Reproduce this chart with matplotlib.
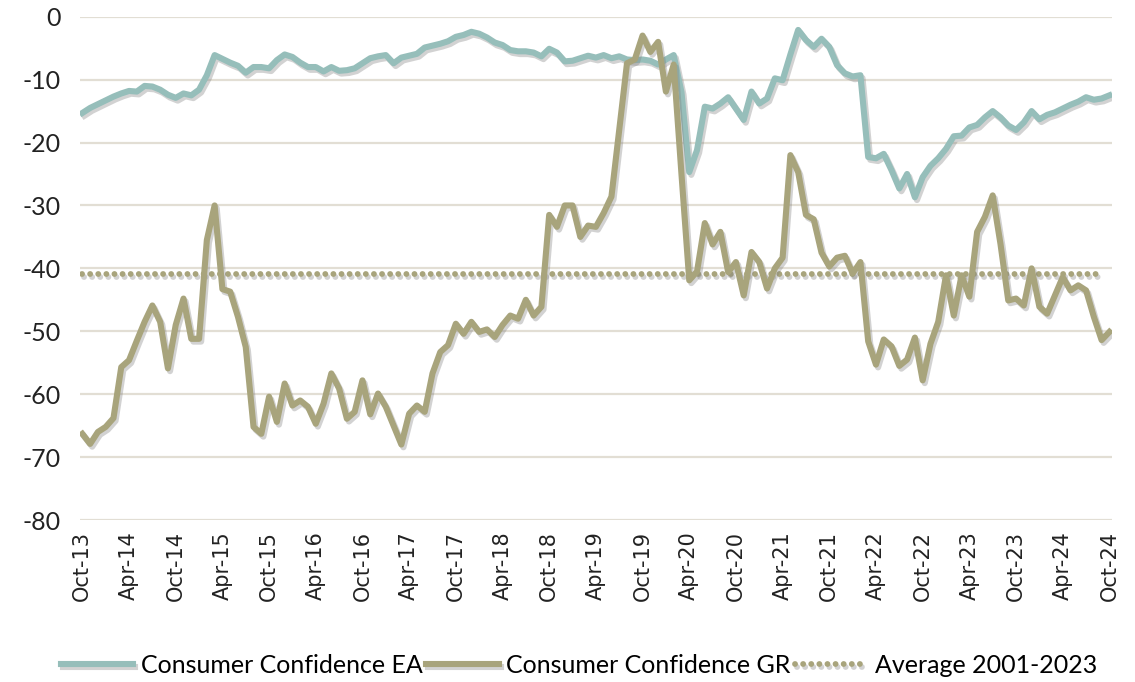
import numpy as np
import pandas as pd
import matplotlib
matplotlib.use("Agg")
import matplotlib.pyplot as plt
import matplotlib.patheffects as pe

plt.rcParams["axes.unicode_minus"] = False

# monthly data, Oct 2013 - Oct 2024
months = pd.date_range("2013-10-01", periods=133, freq="MS")

ea = [-15.3, -14.5, -13.9, -13.3, -12.7, -12.2, -11.8, -11.9, -11.0, -11.1,
      -11.6, -12.4, -12.9, -12.2, -12.5, -11.6, -9.3, -6.1, -6.7, -7.3,
      -7.8, -8.9, -8.0, -8.0, -8.2, -6.9, -6.0, -6.4, -7.3, -8.0,
      -8.0, -8.7, -8.0, -8.6, -8.5, -8.2, -7.4, -6.6, -6.3, -6.1,
      -7.4, -6.5, -6.2, -5.9, -4.9, -4.6, -4.3, -3.9, -3.2, -2.9,
      -2.4, -2.7, -3.3, -4.1, -4.5, -5.3, -5.5, -5.5, -5.7, -6.3,
      -5.1, -5.7, -7.1, -7.0, -6.6, -6.2, -6.5, -6.1, -6.6, -6.3,
      -6.8, -6.9, -6.8, -7.0, -7.6, -6.8, -6.1, -12.0, -24.7, -21.2,
      -14.3, -14.6, -13.8, -12.8, -14.6, -16.4, -11.9, -13.8, -13.0, -9.8,
      -10.1, -6.0, -2.1, -3.7, -4.8, -3.5, -4.8, -7.7, -9.0, -9.5,
      -9.3, -22.3, -22.5, -21.8, -24.4, -27.3, -25.0, -28.7, -25.5, -23.7,
      -22.5, -21.0, -19.0, -18.9, -17.6, -17.2, -16.0, -15.0, -16.0, -17.3,
      -18.0, -16.8, -15.0, -16.3, -15.6, -15.2, -14.6, -14.0, -13.5, -12.8,
      -13.2, -13.0, -12.5]

gr = [-66.3, -67.9, -66.0, -65.2, -63.8, -55.7, -54.6, -51.5, -48.5, -45.9,
      -48.5, -55.9, -49.0, -44.8, -51.2, -51.2, -35.5, -30.0, -43.3, -43.7,
      -47.7, -52.5, -65.2, -66.3, -60.4, -64.4, -58.3, -61.8, -61.0, -62.0,
      -64.7, -61.5, -56.7, -59.1, -63.9, -62.8, -57.8, -63.2, -59.9, -62.0,
      -65.0, -68.0, -63.1, -61.8, -62.8, -56.7, -53.3, -52.2, -48.8, -50.4,
      -48.5, -50.1, -49.7, -50.9, -49.0, -47.5, -48.0, -45.0, -47.5, -46.1,
      -31.5, -33.4, -30.0, -30.0, -35.0, -33.2, -33.4, -31.2, -28.6, -18.0,
      -7.4, -6.8, -3.0, -5.6, -4.0, -11.9, -7.6, -25.0, -41.9, -40.5,
      -32.8, -36.2, -34.2, -40.6, -39.0, -44.3, -37.4, -39.0, -43.2, -40.0,
      -38.3, -22.0, -24.7, -31.5, -32.2, -37.5, -39.7, -38.3, -38.0, -40.8,
      -39.0, -51.6, -55.3, -51.3, -52.4, -55.5, -54.5, -51.0, -57.8, -52.0,
      -48.5, -41.1, -47.5, -41.1, -44.5, -34.2, -31.8, -28.4, -36.1, -45.1,
      -44.8, -45.9, -40.0, -46.1, -47.2, -44.3, -41.4, -43.5, -42.7, -43.5,
      -47.7, -51.4, -50.1]

# long-run average of GR, drawn up to Sep 2024
avg_gr = [-40.9] * 132

labels = [d.strftime("%b-%y") for d in months]
yticks = [0, -10, -20, -30, -40, -50, -60, -70, -80]

c_ea = "#96BEBA"
c_gr = "#A8A47C"
c_grid = "#E2DED4"

fig = plt.figure(figsize=(11.35, 6.82), dpi=100)
ax = fig.add_axes([0.0705, 0.2375, 0.909, 0.738])

x = np.arange(len(months))
shadow = [pe.SimpleLineShadow(offset=(1.5, -2), shadow_color="#7f7f7f", alpha=0.35), pe.Normal()]

ax.plot(x, ea, color=c_ea, lw=4.4, solid_joinstyle="round", label="Consumer Confidence EA",
        path_effects=shadow, zorder=3)
ax.plot(x, gr, color=c_gr, lw=4.4, solid_joinstyle="round", label="Consumer Confidence GR",
        path_effects=shadow, zorder=4)
ax.plot(x[:len(avg_gr)], avg_gr, color=c_gr, lw=4.2, linestyle=(0, (0.01, 1.38)),
        dash_capstyle="round", label="Average 2001-2023", path_effects=shadow, zorder=2)

ax.set_ylim(-80, 0)
ax.set_xlim(-0.3, len(months) - 1 + 0.3)
ax.set_yticks(yticks)
ax.set_yticklabels([str(v) for v in yticks], fontsize=18, family="Lato", color="#222222")
ax.set_xticks(x[::6])
ax.set_xticklabels(labels[::6], rotation=90, fontsize=15, family="DejaVu Sans", color="#222222")
ax.tick_params(axis="both", length=0)
ax.tick_params(axis="y", pad=14)
ax.tick_params(axis="x", pad=8)

ax.yaxis.grid(True, color=c_grid, lw=1.6)
ax.set_axisbelow(True)
for s in ax.spines.values():
    s.set_visible(False)

fig.legend(loc="lower center", bbox_to_anchor=(0.51, -0.025), ncol=3, frameon=False,
           prop={"family": "Lato", "size": 18}, handlelength=2.9, handletextpad=0.3,
           columnspacing=0.15)

fig.savefig("out.png", dpi=100)
